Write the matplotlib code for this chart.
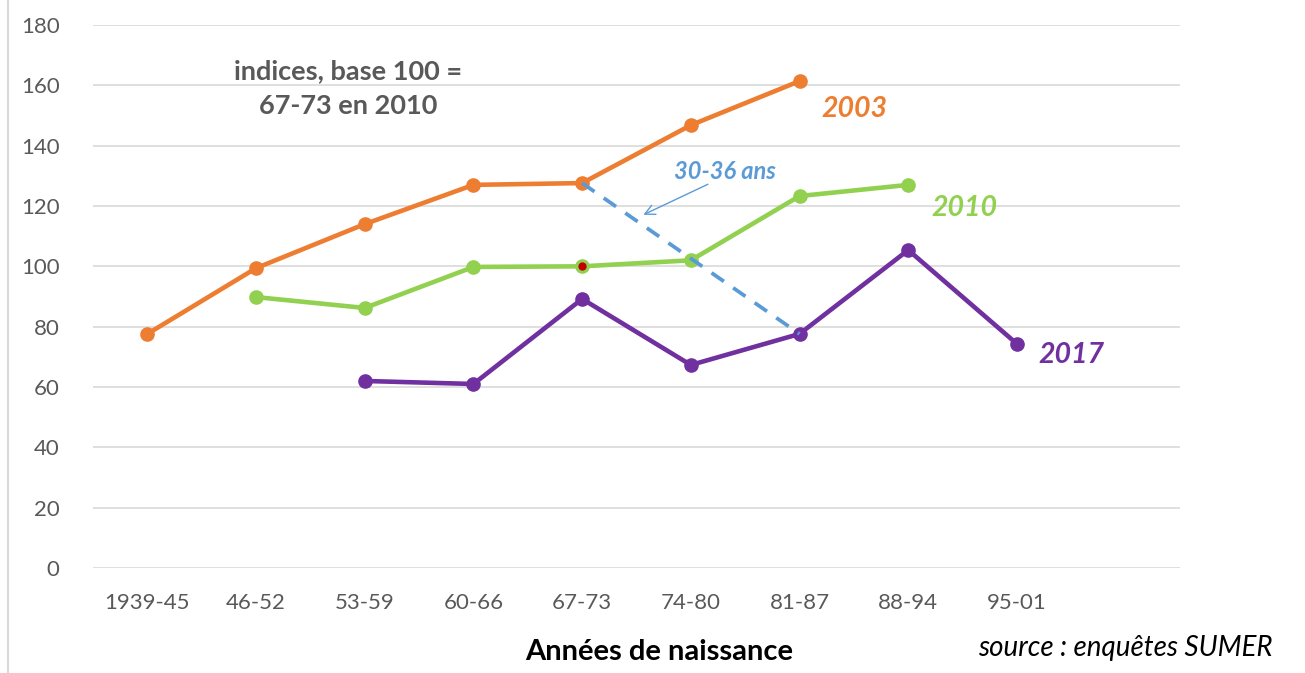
import matplotlib
matplotlib.use("Agg")
import matplotlib.pyplot as plt
from matplotlib.lines import Line2D

# --- DONNEES ---
categories = ["1939-45", "46-52", "53-59", "60-66", "67-73", "74-80", "81-87", "88-94", "95-01", ""]
serie_2003 = [77.6, 99.4, 114, 127, 127.6, 146.8, 161.4, None, None]
serie_2010 = [None, 89.8, 86.2, 99.8, 100, 102, 123.3, 127, None]
serie_2017 = [None, None, 62, 61, 89.2, 67.3, 77.6, 105.4, 74.3]
yticks = [0, 20, 40, 60, 80, 100, 120, 140, 160, 180]

ORANGE = "#ED7D31"
VERT = "#92D050"
VIOLET = "#7030A0"
BLEU = "#5B9BD5"
GRIS = "#595959"

plt.rcParams["font.family"] = ["Lato", "DejaVu Sans"]

fig = plt.figure(figsize=(13.05, 6.73), dpi=100)
ax = fig.add_axes([93 / 1305, 105 / 673, 1087 / 1305, 543 / 673])


def tracer(valeurs, couleur):
    xs = [i for i, v in enumerate(valeurs) if v is not None]
    ys = [v for v in valeurs if v is not None]
    ax.plot(xs, ys, color=couleur, lw=3.3, marker="o", ms=9.5,
            solid_capstyle="round", zorder=3)
    return xs, ys


tracer(serie_2003, ORANGE)
tracer(serie_2010, VERT)
tracer(serie_2017, VIOLET)

# point de base 100 (67-73 en 2010)
ax.plot(4, serie_2010[4], marker="o", ms=7.5, mfc="#C00000", mec=VERT, mew=1.5, zorder=4)

# ligne pointillée : 30-36 ans
ax.plot([4, 6], [serie_2003[4], serie_2017[6]], color=BLEU, lw=2.7,
        ls=(0, (4, 3)), zorder=4)
ax.annotate("", xy=(4.54, 116.7), xytext=(5.18, 127.6),
            arrowprops=dict(arrowstyle="->", color=BLEU, lw=1, mutation_scale=18))
ax.text(5.31, 131.5, "30-36 ans", color=BLEU, fontsize=17, fontweight="bold",
        style="italic", ha="center", va="center")

# étiquettes des séries
ax.text(6.2, 152.2, "2003", color=ORANGE, fontsize=20.5, fontweight="bold", style="italic", va="center")
ax.text(7.21, 119.2, "2010", color=VERT, fontsize=20.5, fontweight="bold", style="italic", va="center")
ax.text(8.2, 70.5, "2017", color=VIOLET, fontsize=20.5, fontweight="bold", style="italic", va="center")

ax.text(1.85, 158.8, "indices, base 100 =\n67-73 en 2010", color=GRIS, fontsize=19.5,
        fontweight="bold", ha="center", va="center", linespacing=1.55)

ax.set_xlim(-0.5, 9.5)
ax.set_ylim(0, 180)
ax.set_yticks(yticks)
ax.set_xticks(range(len(categories)))
ax.set_xticklabels(categories)
ax.tick_params(axis="both", length=0, labelsize=16, labelcolor=GRIS)
ax.tick_params(axis="y", pad=24)
ax.tick_params(axis="x", pad=18)
ax.grid(axis="y", color="#D9D9D9", lw=1.2)
ax.set_axisbelow(True)
for s in ax.spines.values():
    s.set_visible(False)

fig.text(659 / 1305, 1 - 652 / 673, "Années de naissance", fontsize=21,
         fontweight="bold", ha="center", va="center")

fig.text(1125 / 1305, 1 - 648 / 673, "source : enquêtes SUMER", fontsize=20,
         style="italic", ha="center", va="center")

# bordure gauche
fig.add_artist(Line2D([8 / 1305, 8 / 1305], [0, 1], color="#D9D9D9", lw=1.5))

fig.savefig("out.png", dpi=100)
